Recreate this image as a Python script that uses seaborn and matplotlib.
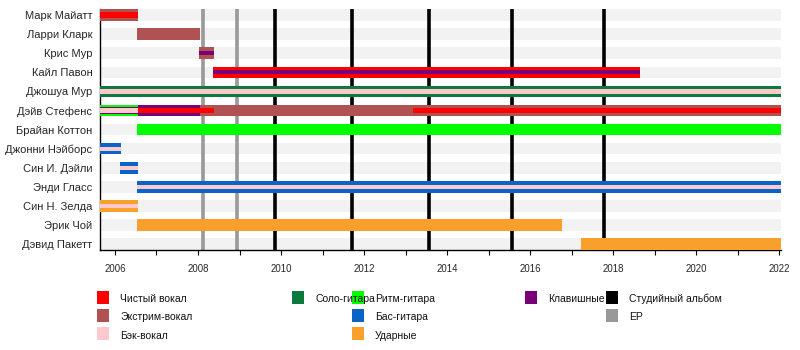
import matplotlib
matplotlib.use("Agg")
import matplotlib.pyplot as plt
from matplotlib.patches import Rectangle
from matplotlib.ticker import MultipleLocator
import seaborn as sns
import pandas as pd

# ---- data -------------------------------------------------------------
members = [
    "Марк Майатт", "Ларри Кларк", "Крис Мур", "Кайл Павон", "Джошуа Мур",
    "Дэйв Стефенс", "Брайан Коттон", "Джонни Нэйборс", "Син И. Дэйли",
    "Энди Гласс", "Син Н. Зелда", "Эрик Чой", "Дэвид Пакетт",
]

roles = [
    "Чистый вокал", "Экстрим-вокал", "Бэк-вокал", "Соло-гитара",
    "Ритм-гитара", "Бас-гитара", "Ударные", "Клавишные",
]

# one row per tenure segment; tier = primary / secondary role in that period
seg_member = [
    "Марк Майатт", "Марк Майатт",
    "Ларри Кларк",
    "Крис Мур", "Крис Мур",
    "Кайл Павон", "Кайл Павон",
    "Джошуа Мур", "Джошуа Мур",
    "Дэйв Стефенс", "Дэйв Стефенс", "Дэйв Стефенс",
    "Дэйв Стефенс", "Дэйв Стефенс", "Дэйв Стефенс", "Дэйв Стефенс",
    "Брайан Коттон",
    "Джонни Нэйборс", "Джонни Нэйборс",
    "Син И. Дэйли", "Син И. Дэйли",
    "Энди Гласс", "Энди Гласс",
    "Син Н. Зелда", "Син Н. Зелда",
    "Эрик Чой",
    "Дэвид Пакетт",
]
seg_role = [
    "Экстрим-вокал", "Чистый вокал",
    "Экстрим-вокал",
    "Экстрим-вокал", "Клавишные",
    "Чистый вокал", "Клавишные",
    "Соло-гитара", "Бэк-вокал",
    "Ритм-гитара", "Клавишные", "Бэк-вокал",
    "Клавишные", "Экстрим-вокал", "Чистый вокал", "Чистый вокал",
    "Ритм-гитара",
    "Бас-гитара", "Бэк-вокал",
    "Бас-гитара", "Бэк-вокал",
    "Бас-гитара", "Бэк-вокал",
    "Ударные", "Бэк-вокал",
    "Ударные",
    "Ударные",
]
seg_tier = [
    "main", "second",
    "main",
    "main", "inner",
    "main", "inner",
    "main", "inner",
    "main", "mid", "second",
    "main", "main", "second", "second",
    "main",
    "main", "inner",
    "main", "inner",
    "main", "inner",
    "main", "inner",
    "main",
    "main",
]
seg_start = [
    2005.64, 2005.64,
    2006.53,
    2008.03, 2008.03,
    2008.36, 2008.36,
    2005.64, 2005.64,
    2005.64, 2005.64, 2005.64,
    2006.55, 2008.05, 2006.55, 2013.18,
    2006.53,
    2005.64, 2005.64,
    2006.12, 2006.12,
    2006.53, 2006.53,
    2005.64, 2005.64,
    2006.53,
    2017.23,
]
seg_end = [
    2006.55, 2006.55,
    2008.05,
    2008.39, 2008.39,
    2018.65, 2018.65,
    2022.04, 2022.04,
    2006.55, 2006.55, 2006.55,
    2008.05, 2022.04, 2008.39, 2022.04,
    2022.04,
    2006.14, 2006.14,
    2006.56, 2006.56,
    2022.04, 2022.04,
    2006.55, 2006.55,
    2016.77,
    2022.04,
]

studio_albums = [2009.86, 2011.71, 2013.56, 2015.57, 2017.78]
eps = [2008.13, 2008.95]
timeline_start, timeline_end = 2005.64, 2022.04

# ---- styling ----------------------------------------------------------
role_colors = {
    "Чистый вокал": "#ff0000",
    "Экстрим-вокал": "#b15252",
    "Бэк-вокал": "#ffc8cc",
    "Соло-гитара": "#0c7a3c",
    "Ритм-гитара": "#00ff00",
    "Бас-гитара": "#0a64c8",
    "Ударные": "#f9a02c",
    "Клавишные": "#7a0078",
}
album_color = "#000000"
ep_color = "#999999"
row_bg = "#f2f2f2"

W, H, DPI = 800, 350, 100
row_px = 19.1
tier_px = {"main": 11.5, "mid": 7.5, "second": 5.8, "inner": 4.2}
tier_z = {"main": 3, "mid": 4, "second": 5, "inner": 6}

sns.set_theme(style="white")
plt.rcParams["font.family"] = ["Liberation Sans", "DejaVu Sans"]

segments = pd.DataFrame({
    "member": seg_member, "role": seg_role, "tier": seg_tier,
    "start": seg_start, "end": seg_end,
})
segments["row"] = segments["member"].map({m: i for i, m in enumerate(members)})

fig = plt.figure(figsize=(W / DPI, H / DPI), dpi=DPI)
left, right, top, bottom = 100, 781, 9, 250
ax = fig.add_axes([left / W, 1 - bottom / H, (right - left) / W, (bottom - top) / H])

first_row_px = 15
y_top = -(first_row_px - top) / row_px
y_bot = y_top + (bottom - top) / row_px
ax.set_xlim(timeline_start, timeline_end)
ax.set_ylim(y_bot, y_top)

# light background band behind every member row
ax.barh(range(len(members)), timeline_end - timeline_start, left=timeline_start,
        height=tier_px["main"] / row_px, color=row_bg, zorder=0, linewidth=0)

# release markers
for x in eps:
    ax.axvline(x, color=ep_color, lw=2.6, zorder=1)
for x in studio_albums:
    ax.axvline(x, color=album_color, lw=2.6, zorder=1)

# tenure bars, layered by tier
for tier in ["main", "mid", "second", "inner"]:
    sub = segments[segments["tier"] == tier]
    ax.barh(sub["row"], sub["end"] - sub["start"], left=sub["start"],
            height=tier_px[tier] / row_px,
            color=[role_colors[r] for r in sub["role"]],
            zorder=tier_z[tier], linewidth=0)

ax.set_yticks(range(len(members)))
ax.set_yticklabels(members, fontsize=8)
ax.tick_params(axis="y", length=0, pad=5.5)

ax.xaxis.set_major_locator(MultipleLocator(2))
ax.xaxis.set_minor_locator(MultipleLocator(1))
ax.tick_params(axis="x", which="both", bottom=True, direction="out",
               length=3.5, width=0.8, color="black", labelsize=6.9, pad=6.5)
ax.set_xticks(range(2006, 2023, 2))
ax.set_xticklabels([str(y) for y in range(2006, 2023, 2)])

for side in ["top", "right"]:
    ax.spines[side].set_visible(False)
for side in ["left", "bottom"]:
    ax.spines[side].set_color("black")
    ax.spines[side].set_linewidth(1.0)
ax.grid(False)
ax.set_facecolor("white")

# legend laid out in columns below the timeline
legend_items = [
    ("Чистый вокал", role_colors["Чистый вокал"], 97, 0),
    ("Экстрим-вокал", role_colors["Экстрим-вокал"], 97, 1),
    ("Бэк-вокал", role_colors["Бэк-вокал"], 97, 2),
    ("Соло-гитара", role_colors["Соло-гитара"], 292, 0),
    ("Ритм-гитара", role_colors["Ритм-гитара"], 352, 0),
    ("Бас-гитара", role_colors["Бас-гитара"], 352, 1),
    ("Ударные", role_colors["Ударные"], 352, 2),
    ("Клавишные", role_colors["Клавишные"], 525, 0),
    ("Студийный альбом", album_color, 606, 0),
    ("EP", ep_color, 606, 1),
]
leg_y0, leg_dy, sw_w, sw_h = 298, 18.3, 12, 13
for label, color, x_px, r in legend_items:
    yc = leg_y0 + r * leg_dy
    fig.add_artist(Rectangle((x_px / W, 1 - (yc - 1 + sw_h / 2) / H), sw_w / W, sw_h / H,
                             transform=fig.transFigure, facecolor=color,
                             edgecolor="none"))
    fig.text((x_px + 23) / W, 1 - (yc + 1) / H, label, fontsize=7.5,
             va="center", ha="left", color="#111111")

fig.savefig("out.png", dpi=DPI, facecolor="white")
